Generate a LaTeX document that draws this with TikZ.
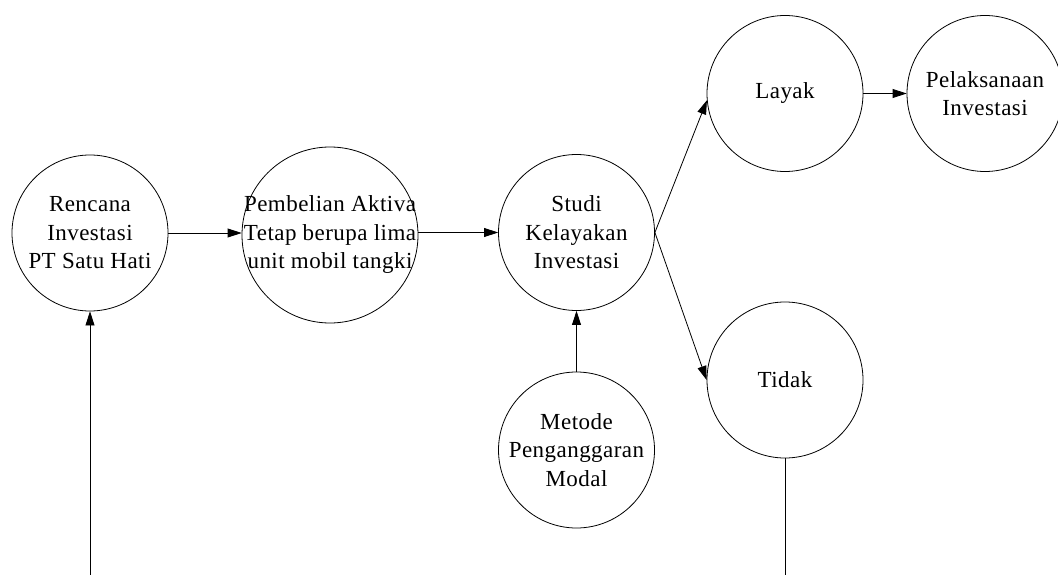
\documentclass[tikz,border=0pt]{standalone}
\usepackage{fontspec}
\newfontfamily\serifrm[LetterSpace=2]{Liberation Serif}
\usetikzlibrary{arrows.meta}
\begin{document}
\begin{tikzpicture}[x=1pt,y=-1pt,
  circ/.style={draw,circle,line width=0.8pt,minimum size=156pt,inner sep=0pt},
  bigcirc/.style={circ,minimum size=176pt},
  txt/.style={align=center,font=\serifrm\fontsize{23}{28.5}\selectfont,inner sep=0pt},
  arr/.style={line width=0.8pt,-{Triangle[length=14pt,width=9pt]}},
  ln/.style={line width=0.8pt}]
\useasboundingbox (0,0) rectangle (1058,575);
\node[circ] (c1) at (90,233) {};
\node[txt] (t1) at (c1) {Rencana\\Investasi\\PT Satu Hati};
\node[bigcirc] (c2) at (330,235) {};
\node[txt] (t2) at (c2) {Pembelian Aktiva\\Tetap berupa lima\\unit mobil tangki};
\node[circ] (c3) at (576.5,232.5) {};
\node[txt] (t3) at (c3) {Studi\\Kelayakan\\Investasi};
\node[circ] (c4) at (785,93.5) {};
\node[txt] (t4) at (c4) {Layak};
\node[circ] (c5) at (985,93.5) {};
\node[txt] (t5) at (c5) {Pelaksanaan\\Investasi};
\node[circ] (c6) at (785,380) {};
\node[txt] (t6) at (c6) {Tidak};
\node[circ] (c7) at (576.5,450) {};
\node[txt] (t7) at (c7) {Metode\\Penganggaran\\Modal};
\coordinate (b1) at (90,575);
\coordinate (b6) at (785,575);
\draw[arr] (c1.east) -- (c2.west |- c1.east);
\draw[arr] (c2.east |- c3.west) -- (c3.west);
\draw[arr] (c3.east) -- (c4.185);
\draw[arr] (c3.east) -- (c6.west);
\draw[arr] (c4.east) -- (c5.west);
\draw[arr] (c7.north) -- (c3.south);
\draw[ln] (c6.south) -- (b6);
\draw[arr] (b1) -- (c1.south);
\end{tikzpicture}
\end{document}
